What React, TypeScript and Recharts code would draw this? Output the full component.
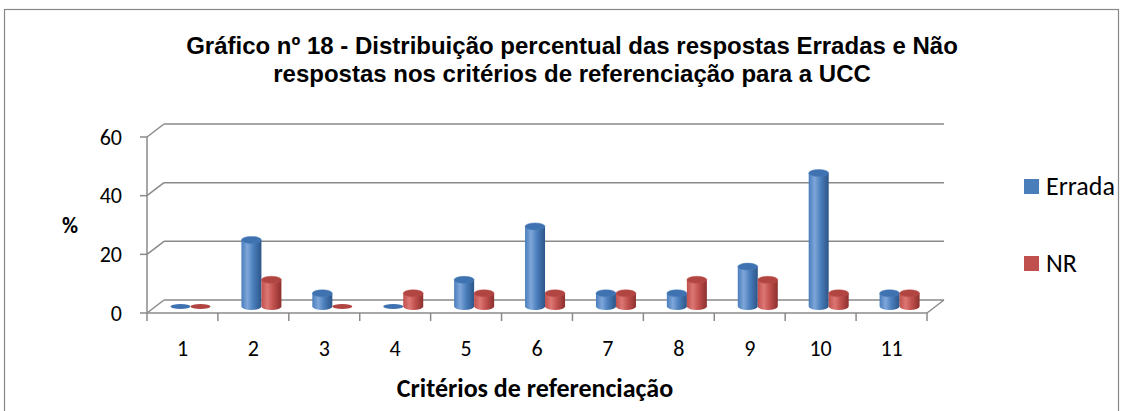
import React from "react"
import { Bar, BarChart, CartesianGrid, XAxis, YAxis } from "recharts"

const criterios = ["1", "2", "3", "4", "5", "6", "7", "8", "9", "10", "11"]
const errada = [0, 22.7, 4.5, 0, 9.1, 27.3, 4.5, 4.5, 13.6, 45.5, 4.5]
const nr = [0, 9.1, 0, 4.5, 4.5, 4.5, 4.5, 9.1, 9.1, 4.5, 4.5]
const yTicks = [0, 20, 40, 60]
const series = ["Errada", "NR"] as const

const data = criterios.map((c, i) => ({ name: c, Errada: errada[i], NR: nr[i] }))

const W = 1123
const H = 411
const M = { top: 137, right: 196, bottom: 0, left: 0 }
// 3D depth offset of the back wall
const DX = 17
const DY = -13
const GRID = "#8a8a8a"
const CAL = "Carlito, Calibri, Lato, sans-serif"
const ARIAL = "Liberation Sans, Arial, sans-serif"
const bandW = (W - 147 - M.right) / criterios.length

const colors = {
  Errada: { main: "#4a7ebb", light: "#7ea6da", dark: "#2c5588", top: "#3f72b0" },
  NR: { main: "#c0504d", light: "#dc7774", dark: "#8c302e", top: "#b04542" },
}

function makeCylinder(key: "Errada" | "NR") {
  return (props: any) => {
    const { x, y, width, height } = props
    const c = colors[key]
    const x0 = x + DX / 2
    const x1 = x0 + width
    const rx = width / 2
    const ry = 3.5
    const top = y + DY / 2
    const bottom = y + height + DY / 2
    if (!height || height < 1) {
      return <ellipse cx={x0 + rx} cy={bottom} rx={rx} ry={ry - 1} fill={c.top} />
    }
    return (
      <g>
        <path
          d={`M${x0},${top} L${x0},${bottom} A${rx},${ry} 0 0 0 ${x1},${bottom} L${x1},${top} Z`}
          fill={`url(#grad-${key})`}
        />
        <ellipse cx={x0 + rx} cy={top} rx={rx} ry={ry} fill={c.top} stroke={c.main} strokeWidth={0.5} />
      </g>
    )
  }
}

function GridLine(props: any) {
  const { x1, y1, x2, y2 } = props
  const isFloor = y1 > 300
  return (
    <g key={props.key}>
      <line x1={x1 + DX} y1={y1 + DY} x2={x2 + DX} y2={y2 + DY} stroke={GRID} strokeWidth={1.5} />
      <line x1={x1} y1={y1} x2={x1 + DX} y2={y1 + DY} stroke={GRID} strokeWidth={1.5} />
      {isFloor && <line x1={x2} y1={y2} x2={x2 + DX} y2={y2 + DY} stroke={GRID} strokeWidth={1.5} />}
    </g>
  )
}

function XTick(props: any) {
  const { x, y, payload, index } = props
  const left = x - bandW / 2
  const right = x + bandW / 2
  return (
    <g>
      <line x1={left} y1={y} x2={left} y2={y + 8} stroke={GRID} strokeWidth={1.5} />
      {index === criterios.length - 1 && (
        <line x1={right} y1={y} x2={right} y2={y + 8} stroke={GRID} strokeWidth={1.5} />
      )}
      <text x={x} y={y + 43} textAnchor="middle" fontFamily={CAL} fontSize={22} fill="#000">
        {payload.value}
      </text>
    </g>
  )
}

export default function App() {
  return (
    <div style={{ position: "absolute", left: 0, top: 0, width: W, height: H, background: "#fff", overflow: "hidden" }}>
      <svg style={{ position: "absolute", left: 0, top: 0 }} width={W} height={H}>
        <rect x={4.5} y={9.5} width={W - 9} height={H + 20} fill="none" stroke="#888" strokeWidth={1.2} />
        <text x={572} y={54} textAnchor="middle" fontFamily={ARIAL} fontWeight="bold" fontSize={24}>
          Gráfico nº 18 - Distribuição percentual das respostas Erradas e Não
        </text>
        <text x={572} y={82} textAnchor="middle" fontFamily={ARIAL} fontWeight="bold" fontSize={24}>
          respostas nos critérios de referenciação para a UCC
        </text>
        <text x={535} y={397} textAnchor="middle" fontFamily={CAL} fontWeight="bold" fontSize={26}>
          Critérios de referenciação
        </text>
      </svg>
      <div style={{ position: "absolute", left: 0, top: 0 }}>
        <BarChart width={W} height={H} data={data} margin={M} barSize={20} barGap={0}>
          <defs>
            {series.map((k) => (
              <linearGradient key={k} id={`grad-${k}`} x1="0" y1="0" x2="1" y2="0">
                <stop offset="0%" stopColor={colors[k].main} />
                <stop offset="30%" stopColor={colors[k].light} />
                <stop offset="60%" stopColor={colors[k].main} />
                <stop offset="100%" stopColor={colors[k].dark} />
              </linearGradient>
            ))}
          </defs>
          <CartesianGrid vertical={false} horizontal={GridLine as any} />
          <XAxis
            dataKey="name"
            height={98}
            axisLine={{ stroke: GRID, strokeWidth: 1.5 }}
            tickLine={false}
            tickSize={0}
            tickMargin={0}
            tick={<XTick />}
            interval={0}
          />
          <YAxis
            width={147}
            domain={[0, 60]}
            ticks={yTicks}
            axisLine={{ stroke: GRID, strokeWidth: 1.5 }}
            tickLine={{ stroke: GRID, strokeWidth: 1.5 }}
            tickSize={7}
            tickMargin={18}
            tick={{ fontFamily: CAL, fontSize: 22, fill: "#000" }}
            label={{ value: "%", position: "insideLeft", offset: 62, fontFamily: CAL, fontWeight: "bold", fontSize: 22, fill: "#000" }}
          />
          <Bar dataKey="Errada" fill={colors.Errada.main} shape={makeCylinder("Errada")} isAnimationActive={false} />
          <Bar dataKey="NR" fill={colors.NR.main} shape={makeCylinder("NR")} isAnimationActive={false} />
        </BarChart>
      </div>
      <div style={{ position: "absolute", left: 1024, top: 170, fontFamily: CAL, fontSize: 26, color: "#000" }}>
        {series.map((k, i) => (
          <div key={k} style={{ display: "flex", alignItems: "center", height: 32, marginBottom: i === 0 ? 45 : 0 }}>
            <span style={{ display: "inline-block", width: 15, height: 15, background: colors[k].main, marginRight: 7 }} />
            <span>{k}</span>
          </div>
        ))}
      </div>
    </div>
  )
}
